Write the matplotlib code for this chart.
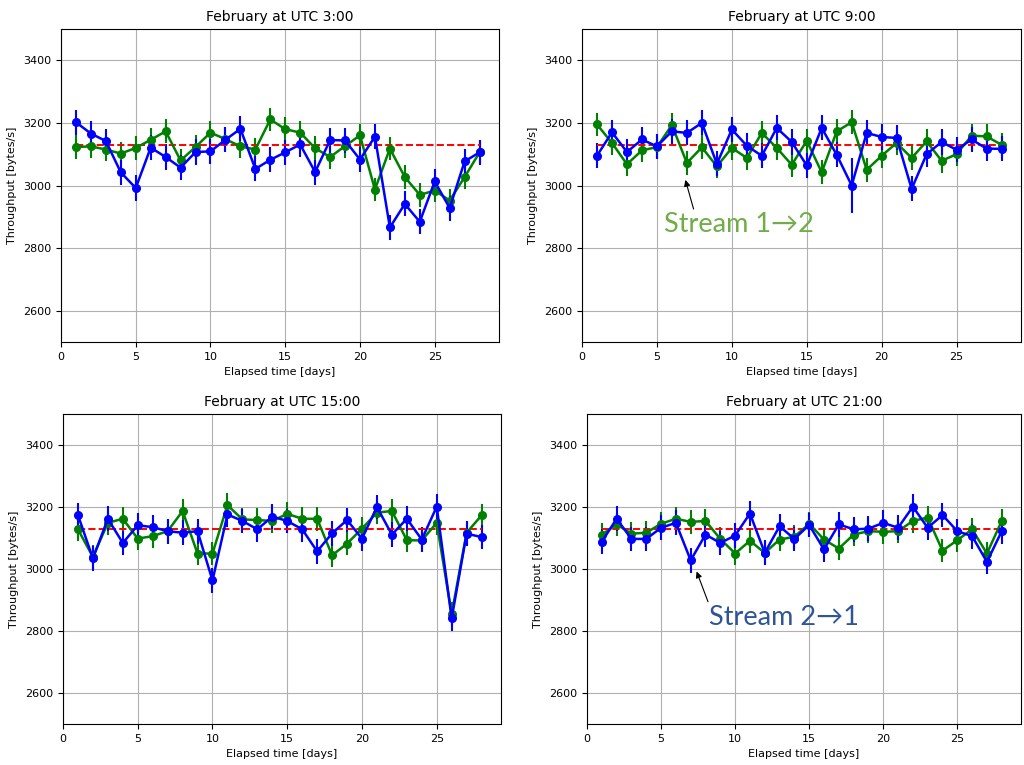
import numpy as np
import matplotlib.pyplot as plt

days = np.arange(1, 29)

# Throughput per day, blue = stream 2->1, green = stream 1->2
blue_03 = [3202, 3166, 3142, 3042, 2992, 3121, 3091, 3057, 3107, 3109, 3146, 3181, 3053, 3082,
           3106, 3131, 3043, 3145, 3144, 3083, 3156, 2866, 2941, 2884, 3013, 2928, 3077, 3106]
green_03 = [3123, 3125, 3115, 3102, 3120, 3146, 3173, 3080, 3123, 3169, 3148, 3125, 3115, 3211,
            3180, 3169, 3119, 3091, 3126, 3160, 2987, 3118, 3027, 2970, 2984, 2952, 3027, 3106]
blue_09 = [3095, 3170, 3107, 3147, 3125, 3173, 3168, 3200, 3069, 3179, 3127, 3095, 3184, 3139,
           3064, 3184, 3098, 3000, 3168, 3155, 3152, 2989, 3100, 3139, 3114, 3147, 3118, 3117]
green_09 = [3195, 3136, 3068, 3112, 3123, 3193, 3072, 3122, 3061, 3120, 3088, 3168, 3120, 3066,
            3143, 3042, 3173, 3202, 3050, 3095, 3136, 3088, 3141, 3079, 3100, 3159, 3157, 3130]
blue_15 = [3174, 3034, 3162, 3084, 3141, 3135, 3122, 3117, 3122, 2963, 3176, 3155, 3128, 3169,
           3155, 3128, 3057, 3115, 3158, 3098, 3200, 3111, 3162, 3095, 3201, 2841, 3114, 3103]
green_15 = [3128, 3039, 3149, 3162, 3098, 3106, 3122, 3187, 3050, 3050, 3206, 3160, 3158, 3155,
            3178, 3162, 3162, 3044, 3082, 3130, 3182, 3187, 3093, 3092, 3149, 2855, 3117, 3173]
blue_21 = [3088, 3162, 3097, 3097, 3133, 3149, 3028, 3111, 3084, 3108, 3179, 3052, 3138, 3097,
           3142, 3063, 3144, 3128, 3130, 3149, 3133, 3201, 3133, 3174, 3122, 3106, 3023, 3122]
green_21 = [3111, 3144, 3114, 3117, 3146, 3162, 3152, 3155, 3097, 3050, 3091, 3052, 3095, 3104,
            3146, 3095, 3066, 3111, 3122, 3120, 3122, 3155, 3166, 3059, 3093, 3128, 3050, 3155]

# standard error of each daily mean
err_blue = [40] * 28
err_green = [38] * 28
err_blue_09 = [40] * 17 + [88] + [40] * 10

overall_mean = 3128

hours = ['3:00', '9:00', '15:00', '21:00']
series = [(blue_03, green_03, err_blue), (blue_09, green_09, err_blue_09),
          (blue_15, green_15, err_blue), (blue_21, green_21, err_blue)]

W, H = 1024, 765
# axes boxes in pixels: left, top, right, bottom
boxes = [(61, 29, 499, 342), (582, 29, 1021, 342),
         (63, 414, 501, 724), (587, 414, 1021, 724)]

fig = plt.figure(figsize=(W / 100, H / 100), dpi=100)

axes = []
for (l, t, r, b), hr, (bl, gr, eb) in zip(boxes, hours, series):
    ax = fig.add_axes([l / W, 1 - b / H, (r - l) / W, (b - t) / H])
    ax.errorbar(days, gr, yerr=err_green, fmt='o-', color='green', ms=5.5, lw=1.8, elinewidth=1.5)
    ax.errorbar(days, bl, yerr=eb, fmt='o-', color='blue', ms=5.5, lw=1.8, elinewidth=1.5)
    ax.plot(days, [overall_mean] * len(days), 'r--', lw=1.4)
    ax.set_ylim(2500, 3500)
    ax.set_xlim(0, 29.3)
    ax.set_yticks([2600, 2800, 3000, 3200, 3400])
    ax.grid(True)
    ax.tick_params(labelsize=8)
    ax.set_xlabel('Elapsed time [days]', fontsize=8)
    ax.set_ylabel('Throughput [bytes/s]', fontsize=8)
    ax.set_title('February at UTC ' + hr, fontsize=10)
    axes.append(ax)

txt_font = ['Lato', 'DejaVu Sans']
arrow = dict(arrowstyle='-|>', color='black', lw=0.8, mutation_scale=9,
             shrinkA=0, shrinkB=0)
axes[1].annotate('Stream 1\u21922', xy=(6.9, 3018), xytext=(10.5, 2876),
                 color='#70AD47', fontsize=19.5, family=txt_font, ha='center', va='center',
                 arrowprops=dict(arrow, relpos=(0.2, 1.0)))
axes[3].annotate('Stream 2\u21921', xy=(7.4, 2992), xytext=(13.3, 2845),
                 color='#2F5597', fontsize=19.5, family=txt_font, ha='center', va='center',
                 arrowprops=dict(arrow, relpos=(0.0, 1.0)))

plt.savefig('out.png', dpi=100)
